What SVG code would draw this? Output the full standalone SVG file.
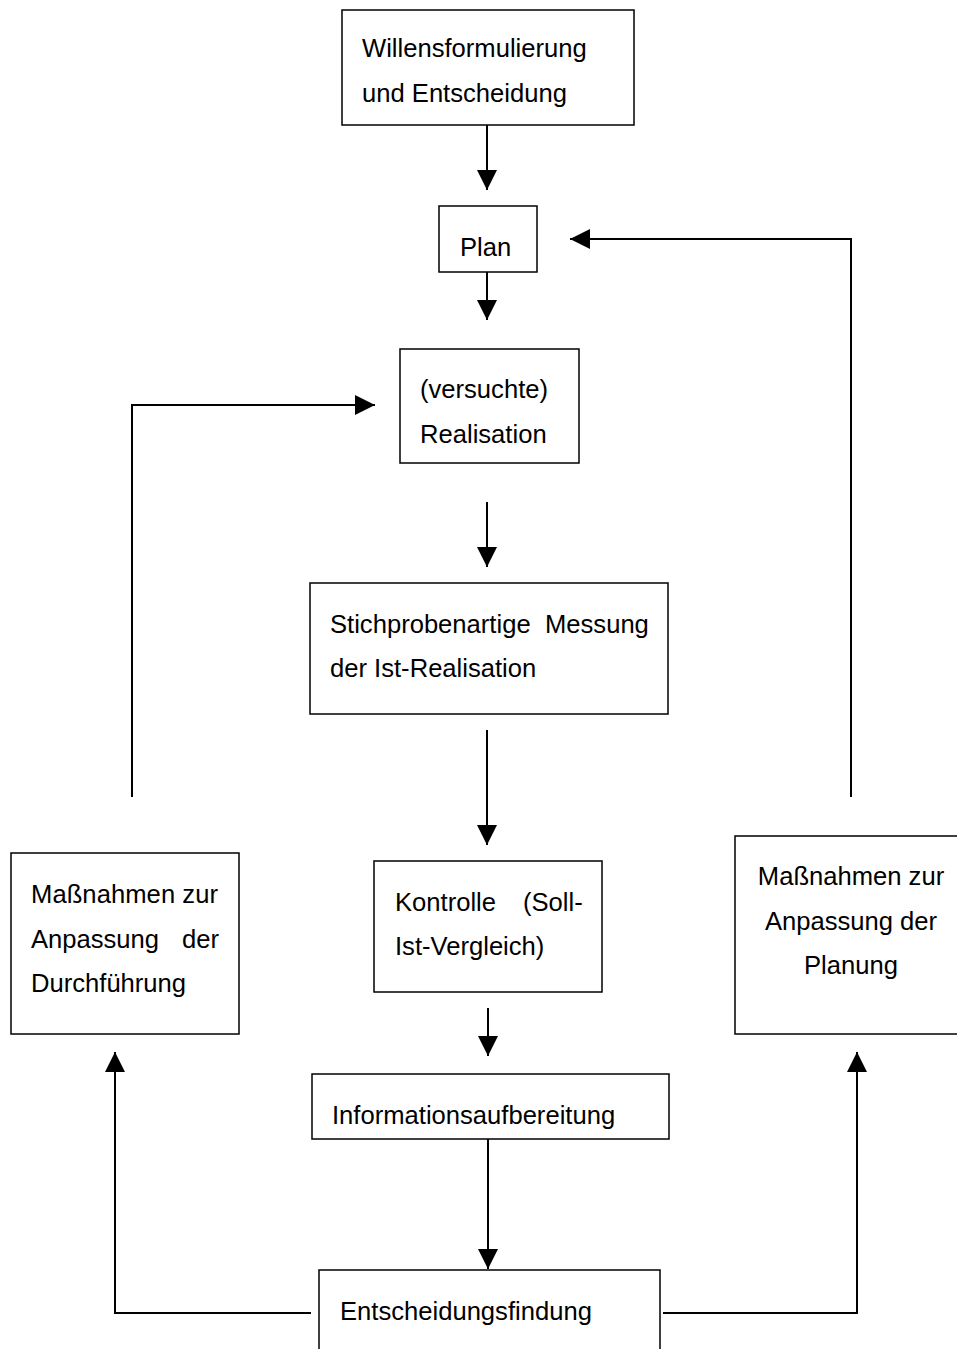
<svg xmlns="http://www.w3.org/2000/svg" width="957" height="1349" viewBox="0 0 957 1349">
<style>
.box{fill:#fff;stroke:#000;stroke-width:1.5}
.t{font-family:"Liberation Sans",Arial,sans-serif;font-size:25.6px;fill:#000}
.c{fill:none;stroke:#000;stroke-width:2}
</style>
<defs>
<marker id="ah" markerUnits="userSpaceOnUse" markerWidth="20" markerHeight="20" refX="20" refY="10" orient="auto" viewBox="0 0 20 20">
<path d="M0,0 L20,10 L0,20 z" fill="#000"/>
</marker>
</defs>
<rect width="957" height="1349" fill="#fff"/>
<g id="connectors">
<line class="c" x1="487" y1="125" x2="487" y2="190" marker-end="url(#ah)"/>
<line class="c" x1="487" y1="272" x2="487" y2="320" marker-end="url(#ah)"/>
<line class="c" x1="487" y1="502" x2="487" y2="567" marker-end="url(#ah)"/>
<line class="c" x1="487" y1="730" x2="487" y2="845" marker-end="url(#ah)"/>
<line class="c" x1="488" y1="1008" x2="488" y2="1056" marker-end="url(#ah)"/>
<line class="c" x1="488" y1="1139" x2="488" y2="1269" marker-end="url(#ah)"/>
<polyline class="c" points="851,797 851,239 570,239" marker-end="url(#ah)"/>
<polyline class="c" points="132,797 132,405 375,405" marker-end="url(#ah)"/>
<polyline class="c" points="311,1313 115,1313 115,1052" marker-end="url(#ah)"/>
<polyline class="c" points="663,1313 857,1313 857,1052" marker-end="url(#ah)"/>
</g>
<g id="willen">
<rect class="box" x="342" y="10" width="292" height="115"/>
<text class="t" x="362" y="57">Willensformulierung</text>
<text class="t" x="362" y="102">und Entscheidung</text>
</g>
<g id="plan">
<rect class="box" x="439" y="206" width="98" height="66"/>
<text class="t" x="460" y="256">Plan</text>
</g>
<g id="realisation">
<rect class="box" x="400" y="349" width="179" height="114"/>
<text class="t" x="420" y="398">(versuchte)</text>
<text class="t" x="420" y="443">Realisation</text>
</g>
<g id="messung">
<rect class="box" x="310" y="583" width="358" height="131"/>
<text class="t" y="633"><tspan x="330">Stichprobenartige</tspan><tspan x="545">Messung</tspan></text>
<text class="t" x="330" y="677">der Ist-Realisation</text>
</g>
<g id="kontrolle">
<rect class="box" x="374" y="861" width="228" height="131"/>
<text class="t" y="911"><tspan x="395">Kontrolle</tspan><tspan x="523">(Soll-</tspan></text>
<text class="t" x="395" y="955">Ist-Vergleich)</text>
</g>
<g id="info">
<rect class="box" x="312" y="1074" width="357" height="65"/>
<text class="t" x="332" y="1124">Informationsaufbereitung</text>
</g>
<g id="entscheidung">
<rect class="box" x="319" y="1270" width="341" height="100"/>
<text class="t" x="340" y="1320">Entscheidungsfindung</text>
</g>
<g id="durchfuehrung">
<rect class="box" x="11" y="853" width="228" height="181"/>
<text class="t" x="31" y="903" textLength="187" lengthAdjust="spacing">Maßnahmen zur</text>
<text class="t" y="948"><tspan x="31">Anpassung</tspan><tspan x="182">der</tspan></text>
<text class="t" x="31" y="992">Durchführung</text>
</g>
<g id="planung">
<rect class="box" x="735" y="836" width="240" height="198"/>
<text class="t" x="851" y="885" text-anchor="middle">Maßnahmen zur</text>
<text class="t" x="851" y="930" text-anchor="middle">Anpassung der</text>
<text class="t" x="851" y="974" text-anchor="middle">Planung</text>
</g>
</svg>
